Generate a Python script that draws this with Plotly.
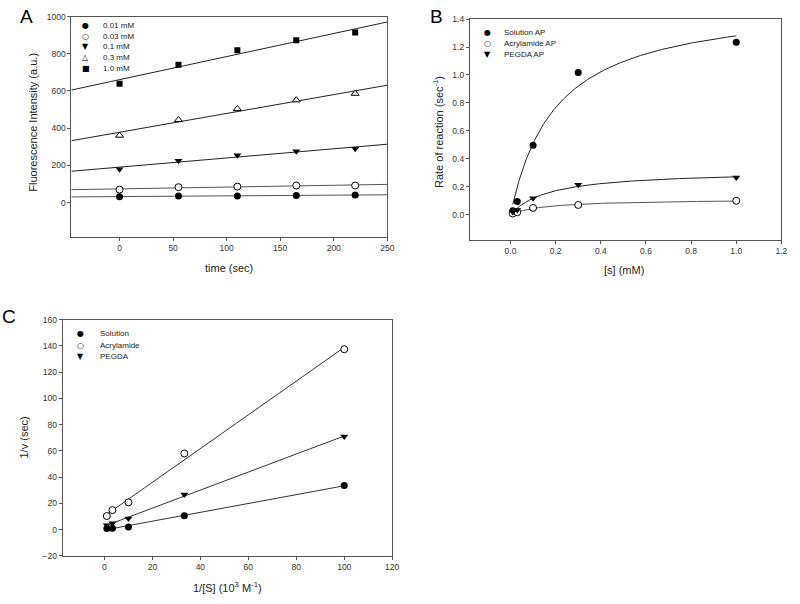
import numpy as np
import plotly.graph_objects as go

# ---------------- Data ----------------
# Panel A: fluorescence vs time
time_sec = [0, 55, 110, 165, 220]
conc_labels = ["0.01 mM", "0.03 mM", "0.1 mM", "0.3 mM", "1.0 mM"]
fl_001 = [32, 36, 36, 39, 41]
fl_003 = [70, 83, 86, 92, 92]
fl_01 = [180, 225, 254, 276, 290]
fl_03 = [361, 445, 504, 551, 586]
fl_10 = [639, 741, 819, 873, 914]

# Panel B: Michaelis-Menten
subs_mM = [0.01, 0.03, 0.1, 0.3, 1.0]
rate_solution = [0.028, 0.094, 0.497, 1.018, 1.234]
rate_acryl = [0.008, 0.017, 0.048, 0.069, 0.099]
rate_pegda = [0.018, 0.033, 0.117, 0.213, 0.265]
labels_B = ["Solution AP", "Acrylamide AP", "PEGDA AP"]

# Panel C: Lineweaver-Burk
inv_s = [1, 3.33, 10, 33.3, 100]
inv_v_solution = [0.8, 1.0, 2.0, 10.6, 33.5]
inv_v_acryl = [10.3, 14.8, 20.7, 58.0, 137.5]
inv_v_pegda = [3.3, 4.8, 8.5, 26.8, 71.0]
labels_C = ["Solution", "Acrylamide", "PEGDA"]

FONT = "Liberation Sans, Arial, sans-serif"
SYMFONT = "DejaVu Sans"
W, H = 800, 604


def px(x):
    return x / W


def py(y):
    return 1 - y / H


def linfit(x, y, x0, x1):
    p = np.polyfit(x, y, 1)
    xs = np.array([x0, x1])
    return xs, np.polyval(p, xs)


def mmfit(s, v):
    s = np.asarray(s, float)
    v = np.asarray(v, float)
    best = None
    for km in np.linspace(0.001, 2.0, 4000):
        f = s / (km + s)
        vmax = (f @ v) / (f @ f)
        sse = ((vmax * f - v) ** 2).sum()
        if best is None or sse < best[0]:
            best = (sse, km, vmax)
    return best[1], best[2]


fig = go.Figure()

# ---------------- Panel A ----------------
seriesA = [fl_001, fl_003, fl_01, fl_03, fl_10]
markA = [
    dict(symbol="circle", size=7, color="black"),
    dict(symbol="circle", size=7, color="white", line=dict(color="black", width=1)),
    dict(symbol="triangle-down", size=7, color="black"),
    dict(symbol="triangle-up", size=7, color="white", line=dict(color="black", width=1)),
    dict(symbol="square", size=6, color="black"),
]
lineA_col = ["#555", "#555", "#222", "#222", "#222"]
for ys, lc in zip(seriesA, lineA_col):
    xs, yl = linfit(time_sec, ys, -45, 250)
    fig.add_trace(go.Scatter(x=xs, y=yl, mode="lines", line=dict(color=lc, width=1),
                             xaxis="x", yaxis="y", showlegend=False, hoverinfo="skip"))
for ys, mk, lab in zip(seriesA, markA, conc_labels):
    fig.add_trace(go.Scatter(x=time_sec, y=ys, mode="markers", marker=mk, name=lab,
                             xaxis="x", yaxis="y", showlegend=False))

# ---------------- Panel B ----------------
seriesB = [rate_solution, rate_acryl, rate_pegda]
markB = [
    dict(symbol="circle", size=7, color="black"),
    dict(symbol="circle", size=7, color="white", line=dict(color="black", width=1)),
    dict(symbol="triangle-down", size=7, color="black"),
]
lineB_col = ["#222", "#555", "#222"]
s_curve = np.linspace(min(subs_mM), max(subs_mM), 300)
for ys, lc in zip(seriesB, lineB_col):
    km, vmax = mmfit(subs_mM, ys)
    fig.add_trace(go.Scatter(x=s_curve, y=vmax * s_curve / (km + s_curve), mode="lines",
                             line=dict(color=lc, width=1), xaxis="x2", yaxis="y2",
                             showlegend=False, hoverinfo="skip"))
for ys, mk, lab in zip(seriesB, markB, labels_B):
    fig.add_trace(go.Scatter(x=subs_mM, y=ys, mode="markers", marker=mk, name=lab,
                             xaxis="x2", yaxis="y2", showlegend=False))

# ---------------- Panel C ----------------
seriesC = [inv_v_solution, inv_v_acryl, inv_v_pegda]
for ys in seriesC:
    xs, yl = linfit(inv_s, ys, min(inv_s), max(inv_s))
    fig.add_trace(go.Scatter(x=xs, y=yl, mode="lines", line=dict(color="#333", width=1),
                             xaxis="x3", yaxis="y3", showlegend=False, hoverinfo="skip"))
for ys, mk, lab in zip(seriesC, markB, labels_C):
    fig.add_trace(go.Scatter(x=inv_s, y=ys, mode="markers", marker=mk, name=lab,
                             xaxis="x3", yaxis="y3", showlegend=False))

# ---------------- Axes ----------------
axcommon = dict(showline=True, mirror=True, linecolor="#555", linewidth=1,
                ticks="outside", ticklen=3, tickcolor="#555", tickwidth=1,
                showgrid=False, zeroline=False,
                tickfont=dict(family=FONT, size=8.5, color="#333"))

fig.update_layout(
    width=W, height=H, margin=dict(l=0, r=0, t=0, b=0),
    paper_bgcolor="white", plot_bgcolor="white", showlegend=False,
    xaxis=dict(domain=[0.09, 0.4884], range=[-45, 250],
               tickvals=[0, 50, 100, 150, 200, 250], anchor="y", **axcommon),
    yaxis=dict(domain=[0.6093, 0.9806], range=[-185, 1000],
               tickvals=[0, 200, 400, 600, 800, 1000], anchor="x", **axcommon),
    xaxis2=dict(domain=[0.5925, 0.9854], range=[-0.18, 1.2],
                tickvals=[0, 0.2, 0.4, 0.6, 0.8, 1.0, 1.2], tickformat=".1f",
                anchor="y2", **axcommon),
    yaxis2=dict(domain=[0.6048, 0.9763], range=[-0.18, 1.4],
                tickvals=[0, 0.2, 0.4, 0.6, 0.8, 1.0, 1.2, 1.4], tickformat=".1f",
                anchor="x2", **axcommon),
    xaxis3=dict(domain=[0.0791, 0.4946], range=[-17.4, 120],
                tickvals=[0, 20, 40, 60, 80, 100, 120], anchor="y3", **axcommon),
    yaxis3=dict(domain=[0.0728, 0.4702], range=[-20, 160],
                tickvals=[-20, 0, 20, 40, 60, 80, 100, 120, 140, 160], anchor="x3",
                **axcommon),
)

ann = []


def text(x, y, t, size=11, angle=0, xanchor="center", family=FONT, color="#222"):
    ann.append(dict(x=px(x), y=py(y), xref="paper", yref="paper", text=t,
                    showarrow=False, textangle=angle, xanchor=xanchor, yanchor="middle",
                    font=dict(family=family, size=size, color=color)))


# Panel letters
text(27, 12, "A", size=19, color="black")
text(440, 12, "B", size=19, color="black")
text(9, 317, "C", size=19, color="black")

# Axis titles
text(231, 267, "time (sec)")
text(33, 119, "Fluorescence Intensity (a.u.)", angle=-90)
text(630, 269, "[s] (mM)")
text(442, 129, "Rate of reaction (sec<sup>-1</sup>)", angle=-90)
text(230, 592, "1/[S] (10<sup>3</sup> M<sup>-1</sup>)")
text(24, 440, "1/v (sec)", angle=-90)

# Legends (symbol glyphs + labels)
symA = ["●", "○", "▼", "△", "■"]
for i, lab in enumerate(conc_labels):
    yy = 21 + i * 10.8
    text(86.7, yy, symA[i], size=8, family=SYMFONT, color="black")
    text(101.7, yy, lab, size=8, xanchor="left")
symB = ["●", "○", "▼"]
for i, lab in enumerate(labels_B):
    yy = 27.5 + i * 11.4
    text(491.7, yy, symB[i], size=8, family=SYMFONT, color="black")
    text(506.7, yy, lab, size=8, xanchor="left")
for i, lab in enumerate(labels_C):
    yy = 334.5 + i * 11.5
    text(81.7, yy, symB[i], size=8, family=SYMFONT, color="black")
    text(99.3, yy, lab, size=8, xanchor="left")

fig.update_layout(annotations=ann)

fig.write_html("out.html", config={"displayModeBar": False},
               post_script="document.body.style.margin='0px';")
